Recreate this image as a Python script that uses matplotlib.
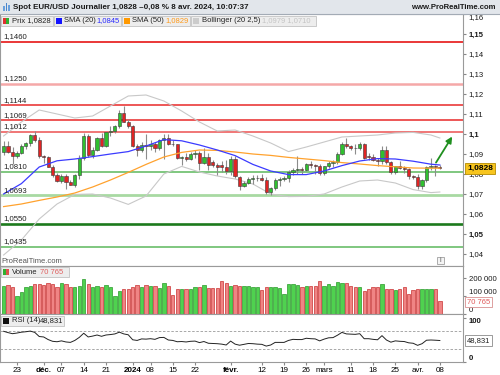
import numpy as np
import matplotlib.pyplot as plt
import matplotlib.transforms as mtransforms
from matplotlib.patches import Rectangle

plt.rcParams['font.family'] = ['Liberation Sans', 'DejaVu Sans']

W, H = 500, 375

# daily candles, 20 nov 2023 -> 8 apr 2024 (one entry per trading day)
opens = [1.0912, 1.0940, 1.0912, 1.0888, 1.0905, 1.0940, 1.0953, 1.0995, 1.0970, 1.0888,
         1.0883, 1.0837, 1.0795, 1.0764, 1.0790, 1.0760, 1.0745, 1.0795, 1.0878, 1.0990,
         1.0895, 1.0922, 1.0980, 1.0942, 1.1008, 1.1013, 1.1042, 1.1105, 1.1062, 1.1038,
         1.0942, 1.0922, 1.0945, 1.0940, 1.0952, 1.0932, 1.0972, 1.0978, 1.0952, 1.0948,
         1.0878, 1.0885, 1.0875, 1.0898, 1.0903, 1.0855, 1.0883, 1.0858, 1.0847, 1.0845,
         1.0835, 1.0815, 1.0875, 1.0785, 1.0742, 1.0757, 1.0775, 1.0778, 1.0782, 1.0772,
         1.0708, 1.0728, 1.0772, 1.0775, 1.0778, 1.0808, 1.0820, 1.0822, 1.0820, 1.0850,
         1.0843, 1.0838, 1.0803, 1.0838, 1.0855, 1.0858, 1.0900, 1.0948, 1.0938, 1.0930,
         1.0928, 1.0948, 1.0890, 1.0885, 1.0870, 1.0865, 1.0922, 1.0858, 1.0808, 1.0838,
         1.0832, 1.0825, 1.0790, 1.0785, 1.0740, 1.0768, 1.0836, 1.0838, 1.0837]
highs = [1.0965, 1.0965, 1.0935, 1.0915, 1.0948, 1.0960, 1.1002, 1.1017, 1.0987, 1.0895,
         1.0890, 1.0845, 1.0805, 1.0798, 1.0800, 1.0770, 1.0800, 1.0895, 1.1005, 1.1000,
         1.0935, 1.0985, 1.1005, 1.1012, 1.1040, 1.1045, 1.1122, 1.1140, 1.1075, 1.1045,
         1.0950, 1.0958, 1.0998, 1.0968, 1.0960, 1.0975, 1.1000, 1.0998, 1.0968, 1.0950,
         1.0890, 1.0905, 1.0908, 1.0922, 1.0915, 1.0932, 1.0905, 1.0870, 1.0855, 1.0865,
         1.0870, 1.0888, 1.0890, 1.0790, 1.0765, 1.0785, 1.0795, 1.0793, 1.0800, 1.0785,
         1.0735, 1.0780, 1.0785, 1.0790, 1.0820, 1.0830, 1.0888, 1.0835, 1.0856, 1.0865,
         1.0850, 1.0850, 1.0840, 1.0865, 1.0870, 1.0910, 1.0960, 1.0982, 1.0945, 1.0950,
         1.0960, 1.0955, 1.0903, 1.0902, 1.0880, 1.0940, 1.0942, 1.0865, 1.0840, 1.0865,
         1.0840, 1.0830, 1.0795, 1.0800, 1.0775, 1.0840, 1.0878, 1.0845, 1.0845]
lows = [1.0895, 1.0905, 1.0852, 1.0880, 1.0900, 1.0925, 1.0940, 1.0962, 1.0880, 1.0855,
        1.0835, 1.0785, 1.0760, 1.0755, 1.0723, 1.0743, 1.0735, 1.0775, 1.0870, 1.0885,
        1.0880, 1.0915, 1.0935, 1.0935, 1.0990, 1.1005, 1.1030, 1.1060, 1.1030, 1.0935,
        1.0890, 1.0912, 1.0877, 1.0918, 1.0910, 1.0920, 1.0875, 1.0945, 1.0940, 1.0875,
        1.0845, 1.0865, 1.0868, 1.0880, 1.0822, 1.0850, 1.0822, 1.0835, 1.0795, 1.0810,
        1.0800, 1.0795, 1.0780, 1.0722, 1.0735, 1.0750, 1.0750, 1.0765, 1.0765, 1.0698,
        1.0695, 1.0720, 1.0740, 1.0765, 1.0760, 1.0795, 1.0800, 1.0798, 1.0815, 1.0830,
        1.0800, 1.0795, 1.0795, 1.0830, 1.0835, 1.0850, 1.0895, 1.0930, 1.0920, 1.0902,
        1.0920, 1.0875, 1.0870, 1.0865, 1.0838, 1.0850, 1.0850, 1.0800, 1.0800, 1.0825,
        1.0805, 1.0775, 1.0775, 1.0725, 1.0725, 1.0760, 1.0820, 1.0790, 1.0825]
closes = [1.0940, 1.0912, 1.0888, 1.0905, 1.0940, 1.0953, 1.0995, 1.0970, 1.0888, 1.0883,
          1.0837, 1.0795, 1.0764, 1.0790, 1.0760, 1.0745, 1.0795, 1.0878, 1.0990, 1.0895,
          1.0922, 1.0980, 1.0942, 1.1008, 1.1013, 1.1042, 1.1105, 1.1062, 1.1038, 1.0942,
          1.0922, 1.0945, 1.0940, 1.0952, 1.0932, 1.0972, 1.0978, 1.0952, 1.0948, 1.0878,
          1.0885, 1.0875, 1.0898, 1.0903, 1.0855, 1.0883, 1.0845, 1.0847, 1.0835, 1.0835,
          1.0815, 1.0875, 1.0788, 1.0742, 1.0757, 1.0775, 1.0778, 1.0782, 1.0772, 1.0708,
          1.0728, 1.0772, 1.0775, 1.0778, 1.0808, 1.0820, 1.0822, 1.0820, 1.0850, 1.0843,
          1.0838, 1.0803, 1.0838, 1.0855, 1.0858, 1.0900, 1.0948, 1.0938, 1.0930, 1.0928,
          1.0948, 1.0880, 1.0885, 1.0870, 1.0865, 1.0922, 1.0858, 1.0808, 1.0838, 1.0832,
          1.0825, 1.0790, 1.0785, 1.0740, 1.0768, 1.0836, 1.0838, 1.0837, 1.0828]

volumes = [157, 161, 150, 102, 120, 148, 155, 165, 167, 159,
           170, 165, 148, 170, 165, 152, 152, 157, 194, 167,
           150, 155, 148, 159, 148, 100, 128, 141, 139, 150,
           161, 148, 159, 157, 155, 143, 170, 157, 104, 139,
           139, 139, 139, 150, 150, 159, 144, 144, 146, 185,
           174, 155, 159, 157, 157, 157, 148, 148, 133, 148,
           148, 148, 146, 111, 165, 165, 159, 152, 155, 155,
           157, 183, 157, 165, 155, 176, 170, 170, 157, 148,
           148, 129, 139, 152, 150, 165, 139, 139, 133, 139,
           148, 109, 131, 137, 137, 137, 137, 137, 70.765]  # thousands

rsi = [70, 67, 64.5, 66, 68, 69, 70.5, 67.5, 58, 57,
       51, 47, 46, 48, 45.5, 44.5, 49, 56, 65.5, 57,
       59, 61.5, 58.5, 61.5, 62.5, 64, 68, 64, 62, 50.5,
       49, 52.5, 52, 53, 51.5, 55.5, 56, 50, 49, 46,
       46.5, 45.5, 47, 47.5, 44, 46.5, 42.5, 42, 41.5, 40.5,
       38.5, 47.5, 40.5, 38, 40, 42, 41.5, 40.5, 40, 36,
       38.5, 44.5, 44.5, 44.5, 49, 51.5, 51, 51, 54, 53,
       52.5, 48, 52, 55, 55.5, 61, 67.5, 64, 63.5, 63,
       64.5, 53, 53, 51.5, 50.5, 60, 50, 45, 48, 47,
       46.5, 43.5, 42.5, 37.7, 41.5, 49.5, 50, 49.5, 48.831]

# indicator lines read every 4 sessions
ma_idx = [0, 4, 8, 12, 16, 20, 24, 28, 32, 36, 40, 44, 48, 52, 56, 60, 64, 68, 72, 76, 80, 84, 88, 92, 96, 98]
sma20 = [1.0700, 1.0752, 1.0835, 1.0866, 1.0875, 1.0887, 1.0900, 1.0912, 1.0940, 1.0972, 1.0966, 1.0945, 1.0920,
         1.0892, 1.0848, 1.0815, 1.0797, 1.0797, 1.0815, 1.0842, 1.0865, 1.0877, 1.0875, 1.0864, 1.0849, 1.0845]
sma50 = [1.0637, 1.0650, 1.0668, 1.0685, 1.0705, 1.0735, 1.0770, 1.0808, 1.0848, 1.0885, 1.0908, 1.0920, 1.0918,
         1.0910, 1.0900, 1.0893, 1.0883, 1.0875, 1.0867, 1.0857, 1.0850, 1.0842, 1.0836, 1.0830, 1.0829, 1.0829]
bb_up = [1.0990, 1.1060, 1.1120, 1.1100, 1.1080, 1.1090, 1.1140, 1.1190, 1.1195, 1.1165, 1.1115, 1.1060, 1.1015,
         1.1020, 1.0990, 1.0955, 1.0912, 1.0935, 1.0960, 1.0985, 1.0990, 1.0995, 1.1005, 1.1008, 1.0995, 1.0980]
bb_lo = [1.0395, 1.0470, 1.0575, 1.0650, 1.0698, 1.0700, 1.0680, 1.0648, 1.0690, 1.0800, 1.0838, 1.0810, 1.0790,
         1.0775, 1.0750, 1.0700, 1.0687, 1.0688, 1.0700, 1.0735, 1.0765, 1.0770, 1.0755, 1.0722, 1.0707, 1.0710]

# support / resistance levels
res_levels = [1.1460, 1.1250, 1.1144, 1.1069, 1.1012]
res_labels = ['1,1460', '1,1250', '1,1144', '1,1069', '1,1012']
sup_levels = [1.0810, 1.0693, 1.0550, 1.0435]
sup_labels = ['1,0810', '1,0693', '1,0550', '1,0435']

arrow_from = (96.8, 1.0845)
arrow_to = (101.1, 1.0999)

tick_idx = [3, 9, 13, 18, 23, 29, 33, 38, 43, 51, 58, 63, 68, 72, 78, 83, 88, 93, 98]
tick_lbl = ['23', 'déc.', '07', '14', '21', '2024', '08', '15', '22', 'févr.',
            '12', '19', '26', 'mars', '11', '18', '25', 'avr.', '08']
bold_lbl = ['déc.', '2024', 'févr.']

fig = plt.figure(figsize=(5, 3.75), dpi=100)


def px_axes(left, top, width, height):
    return fig.add_axes([left / W, 1 - (top + height) / H, width / W, height / H])


ax_p = px_axes(0, 14, 463, 252)
ax_v = px_axes(0, 266, 463, 48)
ax_r = px_axes(0, 314, 463, 48)

x = np.arange(len(closes))
o, h, l, c = map(np.array, (opens, highs, lows, closes))
up = c >= o
xlim = (-0.81, 103.2)

for ax in (ax_p, ax_v, ax_r):
    ax.set_xlim(*xlim)
    ax.yaxis.tick_right()
    ax.tick_params(axis='y', length=2, pad=2, labelsize=5.6, color='#888888', labelcolor='#1a1a1a')
    ax.tick_params(axis='x', length=0, labelbottom=False)
    for s in ax.spines.values():
        s.set_color('#9a9a9a')
        s.set_linewidth(0.8)

# price panel
ax_p.set_ylim(1.034, 1.160)
pticks = np.arange(1.04, 1.161, 0.01)
ax_p.set_yticks(pticks)
ax_p.set_yticklabels([('%g' % round(v, 2)).replace('.', ',') for v in pticks])
for t in ax_p.get_yticklabels():
    if t.get_text() in ('1,05', '1,1', '1,15'):
        t.set_fontweight('bold')
    if t.get_text() == '1,16':
        t.set_verticalalignment('top')

res_style = [('#e82828', 1.3), ('#f5a8a8', 1.8), ('#e82828', 1.1), ('#e82828', 1.1), ('#f07676', 1.4)]
sup_style = [('#5cb85c', 1.1), ('#a8d9a2', 2.0), ('#1c7a1c', 1.9), ('#5cb85c', 1.1)]
blend = mtransforms.blended_transform_factory(ax_p.transAxes, ax_p.transData)
for lv, lb, (col, lw) in zip(res_levels + sup_levels, res_labels + sup_labels, res_style + sup_style):
    ax_p.axhline(lv, color=col, lw=lw, zorder=1)
    ax_p.annotate(lb, xy=(0, lv), xycoords=blend, xytext=(3, 1.5), textcoords='offset pixels',
                  fontsize=5.6, va='bottom', ha='left', color='#222222', zorder=6)

ax_p.plot(ma_idx, bb_up, color='#c8c8c8', lw=0.8, zorder=2)
ax_p.plot(ma_idx, bb_lo, color='#c8c8c8', lw=0.8, zorder=2)

ax_p.vlines(x, l, h, color='#8c8c8c', lw=0.8, zorder=3)
body_lo = np.minimum(o, c)
body_h = np.maximum(np.abs(c - o), 0.0003)
ax_p.bar(x, body_h, bottom=body_lo, width=0.72,
         color=np.where(up, '#2fc02f', '#e02424'), edgecolor='#3a3a3a', linewidth=0.4, zorder=4)

ax_p.plot(ma_idx, sma50, color='#ffa22e', lw=0.9, zorder=5)
ax_p.plot(ma_idx, sma20, color='#3b3bff', lw=0.9, zorder=5)

ax_p.annotate('', xy=arrow_to, xytext=arrow_from,
              arrowprops=dict(arrowstyle='-|>', color='#1f8f1f', lw=1.3, mutation_scale=9), zorder=7)

ax_p.annotate('1,0828', xy=(1, c[-1]), xycoords=blend, xytext=(4, 0), textcoords='offset pixels',
              fontsize=6, fontweight='bold', va='center', ha='left', annotation_clip=False,
              bbox=dict(boxstyle='square,pad=0.25', fc='#f7c51e', ec='#b58c00', lw=0.6), zorder=8)

# volume panel
vol = np.array(volumes) * 1000
ax_v.set_ylim(0, 266667)
ax_v.set_yticks([0, 100000, 200000])
ax_v.set_yticklabels(['0', '100 000', '200 000'])
ax_v.get_yticklabels()[0].set_verticalalignment('bottom')
ax_v.get_yticklabels()[1].set_verticalalignment('bottom')
ax_v.bar(x, vol, width=0.75, color=np.where(up, '#4fd24f', '#f08484'),
         edgecolor=np.where(up, '#2a9a2a', '#c83232'), linewidth=0.5, zorder=3)
vblend = mtransforms.blended_transform_factory(ax_v.transAxes, ax_v.transData)
ax_v.annotate('70 765', xy=(1, vol[-1]), xycoords=vblend, xytext=(4, -1), textcoords='offset pixels',
              fontsize=5.5, color='#e05a5a', va='center', ha='left', annotation_clip=False,
              bbox=dict(boxstyle='square,pad=0.2', fc='white', ec='#d89090', lw=0.6), zorder=8)

# RSI panel
ax_r.set_ylim(-0.6, 109.8)
ax_r.set_yticks([0, 100])
ax_r.set_yticklabels(['0', '100'])
rl = ax_r.get_yticklabels()
rl[0].set_verticalalignment('bottom')
rl[1].set_verticalalignment('top')
for t in rl:
    t.set_fontweight('bold')
ax_r.axhline(70, color='#9a9a9a', lw=0.6, ls=(0, (3, 2)))
ax_r.axhline(30, color='#9a9a9a', lw=0.6, ls=(0, (3, 2)))
ax_r.plot(x, rsi, color='#222222', lw=0.7, zorder=3)
rblend = mtransforms.blended_transform_factory(ax_r.transAxes, ax_r.transData)
ax_r.annotate('48,831', xy=(1, rsi[-1]), xycoords=rblend, xytext=(4, 0), textcoords='offset pixels',
              fontsize=5.5, color='#222222', va='center', ha='left', annotation_clip=False,
              bbox=dict(boxstyle='square,pad=0.25', fc='white', ec='#8a8a8a', lw=0.6), zorder=8)

ax_r.set_xticks(tick_idx)
ax_r.set_xticklabels(tick_lbl)
ax_r.tick_params(axis='x', length=2, pad=1.5, labelsize=5.8, labelbottom=True, color='#888888')
for t in ax_r.get_xticklabels():
    if t.get_text() in bold_lbl:
        t.set_fontweight('bold')

# overlay in pixel coordinates for header and legend boxes
ax_o = fig.add_axes([0, 0, 1, 1], zorder=10)
ax_o.set_xlim(0, W)
ax_o.set_ylim(H, 0)
ax_o.axis('off')
ax_o.patch.set_alpha(0)

ax_o.add_patch(Rectangle((0, 0), W, 14, fc='#e2e6eb', ec='none'))
ax_o.plot([0, W], [14, 14], color='#a3abb5', lw=0.8)
for bx, bh, col in [(3, 5, '#6aa0dc'), (5.5, 8, '#4a86cc'), (8, 6, '#6aa0dc')]:
    ax_o.add_patch(Rectangle((bx, 11 - bh), 1.6, bh, fc=col, ec='none'))
ax_o.text(13, 7.3, 'Spot EUR/USD Journalier 1,0828 \u20130,08 % 8 avr. 2024, 10:07:37',
          fontsize=5.8, fontweight='bold', va='center', ha='left', color='#1a1a1a')
ax_o.text(496, 7.3, 'www.ProRealTime.com', fontsize=5.6, fontweight='bold', va='center', ha='right',
          color='#1a1a1a')

box_kw = dict(fc='#ededed', ec='#c2c2c2', lw=0.6)
ax_o.add_patch(Rectangle((0.5, 15.5), 52, 10.5, **box_kw))
ax_o.add_patch(Rectangle((2.5, 18), 3, 6, fc='#e03030', ec='none'))
ax_o.add_patch(Rectangle((5.5, 18), 3, 6, fc='#30b030', ec='none'))
ax_o.text(11.5, 21, 'Prix 1,0828', fontsize=5.5, va='center', ha='left', color='#222222')

ax_o.add_patch(Rectangle((53.5, 15.5), 67, 10.5, **box_kw))
ax_o.add_patch(Rectangle((55.5, 18), 6, 6, fc='#1414ff', ec='none'))
ax_o.text(64, 21, 'SMA (20)', fontsize=5.5, va='center', ha='left', color='#222222')
ax_o.text(96.5, 21, '1,0845', fontsize=5.5, va='center', ha='left', color='#2a2aff')

ax_o.add_patch(Rectangle((121.5, 15.5), 68, 10.5, **box_kw))
ax_o.add_patch(Rectangle((123.5, 18), 6, 6, fc='#ff9900', ec='none'))
ax_o.text(132, 21, 'SMA (50)', fontsize=5.5, va='center', ha='left', color='#222222')
ax_o.text(165.5, 21, '1,0829', fontsize=5.5, va='center', ha='left', color='#ff9a1a')

ax_o.add_patch(Rectangle((190.5, 15.5), 125, 10.5, **box_kw))
ax_o.add_patch(Rectangle((192.5, 18), 6, 6, fc='#cccccc', ec='none'))
ax_o.text(201.5, 21, 'Bollinger (20 2,5)', fontsize=5.5, va='center', ha='left', color='#222222')
ax_o.text(262, 21, '1,0979 1,0710', fontsize=5.5, va='center', ha='left', color='#c4c4c4')

ax_o.text(1.5, 261.5, 'ProRealTime.com', fontsize=5.5, va='center', ha='left', color='#555555')
ax_o.add_patch(Rectangle((436.5, 257), 7, 7, fc='#f4f4f4', ec='#a0a0a0', lw=0.6))
ax_o.text(440, 260.7, 'i', fontsize=5, va='center', ha='center', color='#555555')

ax_o.add_patch(Rectangle((0.5, 267), 68, 10, **box_kw))
ax_o.add_patch(Rectangle((2.5, 269), 3, 6, fc='#30b030', ec='none'))
ax_o.add_patch(Rectangle((5.5, 269), 3, 6, fc='#e05050', ec='none'))
ax_o.text(12, 272, 'Volume', fontsize=5.5, va='center', ha='left', color='#222222')
ax_o.text(40, 272, '70 765', fontsize=5.5, va='center', ha='left', color='#e06060')

ax_o.add_patch(Rectangle((0.5, 315.5), 63, 10, **box_kw))
ax_o.add_patch(Rectangle((2.5, 317.5), 6, 6, fc='#111111', ec='none'))
ax_o.text(11.5, 320.5, 'RSI (14)', fontsize=5.5, va='center', ha='left', color='#222222')
ax_o.text(39.5, 320.5, '48,831', fontsize=5.5, va='center', ha='left', color='#222222')

fig.savefig('out.png', dpi=100)
